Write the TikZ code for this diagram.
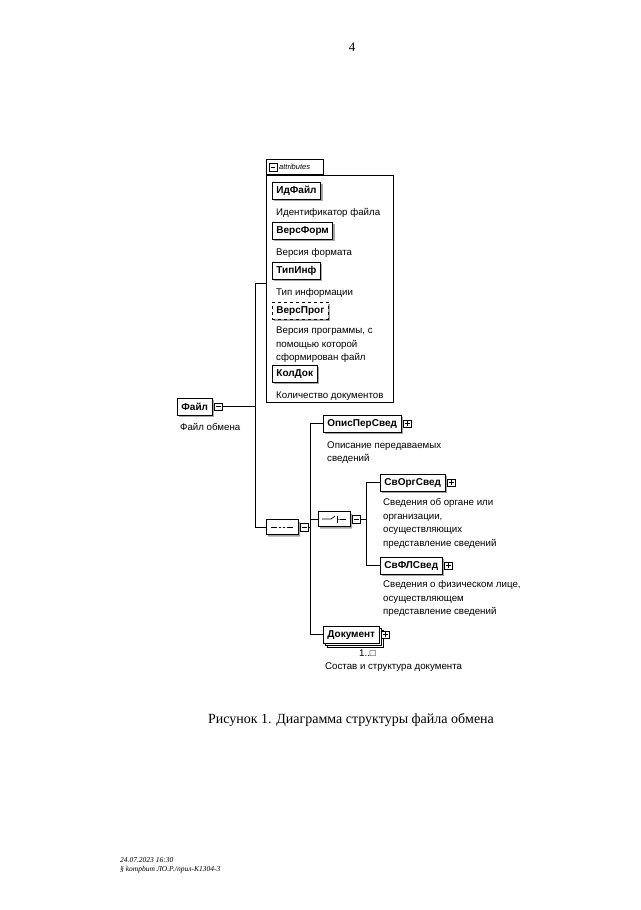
\documentclass[tikz,border=0pt]{standalone}
\usepackage{fontspec}
\setmainfont{Liberation Sans}
\newfontfamily\capfont{Liberation Serif}
\usetikzlibrary{positioning, shapes.misc, shadows}

\begin{document}
\begin{tikzpicture}[x=1pt, y=-1pt,
        elem/.style={draw, line width=0.8pt, fill=white, anchor=north west,
            font=\bfseries\fontsize{10}{12}\selectfont, inner xsep=4pt, inner ysep=0pt,
            minimum height=16.5pt, copy shadow={shadow xshift=2pt, shadow yshift=-2pt, fill=gray!70, draw=none}},
        optel/.style={elem, dashed},
        desc/.style={font=\fontsize{9.7}{13.5}\selectfont, align=left, inner sep=0pt},
        pm/.style={draw, fill=white, minimum size=7.5pt, inner sep=0pt, line width=0.5pt},
        minus/.style={pm, path picture={
            \draw ([xshift=1.3pt]path picture bounding box.west) -- ([xshift=-1.3pt]path picture bounding box.east);}},
        plus/.style={pm, path picture={
            \draw ([xshift=1.3pt]path picture bounding box.west) -- ([xshift=-1.3pt]path picture bounding box.east)
                  ([yshift=-1.3pt]path picture bounding box.north) -- ([yshift=1.3pt]path picture bounding box.south);}},
        comp/.style={draw, fill=white, line width=0.7pt, chamfered rectangle, chamfered rectangle xsep=4pt,
            minimum width=32pt, minimum height=15pt, inner sep=0pt,
            copy shadow={shadow xshift=2pt, shadow yshift=-2pt, fill=gray!70, draw=none}},
        rel/.style={line width=0.7pt}
    ]
    \useasboundingbox[fill=white] (0,0) rectangle (640,910);

    \node (pageNo) at (352,47) {\capfont\fontsize{13}{15}\selectfont 4};

    % attributes
    \node[draw, line width=0.6pt, anchor=north west, minimum width=127pt, minimum height=227pt, inner sep=0pt] (attrs) at (266,175) {};
    \node[draw, line width=0.6pt, anchor=south west, minimum width=57pt, minimum height=15pt, inner sep=0pt] (attrTab) at (attrs.north west) {};
    \node[minus, right=3pt of attrTab.west] (attrMinus) {};
    \node[right=2pt of attrMinus, inner sep=0pt, font=\itshape\fontsize{7.5}{9}\selectfont] (attrText) {attributes};

    \node[elem] (idFile) at (272,182) {ИдФайл};
    \node[desc, below right=9pt and 4pt of idFile.south west] (idFileD) {Идентификатор файла};
    \node[elem] (versForm) at (272,222) {ВерсФорм};
    \node[desc, below right=9pt and 4pt of versForm.south west] (versFormD) {Версия формата};
    \node[elem] (tipInf) at (272,262) {ТипИнф};
    \node[desc, below right=9pt and 4pt of tipInf.south west] (tipInfD) {Тип информации};
    \node[optel] (versProg) at (272,302) {ВерсПрог};
    \node[desc, below right=7.5pt and 4pt of versProg.south west] (versProgD) {Версия программы, с\\помощью которой\\сформирован файл};
    \node[elem] (kolDok) at (272,365) {КолДок};
    \node[desc, below right=9pt and 4pt of kolDok.south west] (kolDokD) {Количество документов};

    % root
    \node[elem] (file) at (177,398) {Файл};
    \node[minus, right=2pt of file] (fileMinus) {};
    \node[desc, below right=8pt and 3pt of file.south west] (fileD) {Файл обмена};

    % sequence
    \node[comp, path picture={
        \draw ([xshift=5pt]path picture bounding box.west) -- ([xshift=-5pt]path picture bounding box.east);
        \foreach \d in {-4,0,4} \fill ([xshift=\d pt]path picture bounding box.center) circle (1.4pt);}] (seq) at (282,527) {};
    \node[minus, right=2pt of seq] (seqMinus) {};

    \node[elem] (opis) at (323,415) {ОписПерСвед};
    \node[plus, right=2pt of opis] (opisPlus) {};
    \node[desc, below right=9pt and 4pt of opis.south west] (opisD) {Описание передаваемых\\сведений};

    % choice
    \node[comp, path picture={
        \draw ([xshift=4pt]path picture bounding box.west) -- ([xshift=-3pt]path picture bounding box.center)
              -- ++(4pt,3pt);
        \draw ([xshift=3pt,yshift=-3.5pt]path picture bounding box.center) -- ++(0,7pt);
        \draw ([xshift=3pt]path picture bounding box.center) -- ([xshift=-4pt]path picture bounding box.east);
        \foreach \d in {-2.5,0,2.5} \fill ([xshift=5pt,yshift=\d pt]path picture bounding box.center) circle (0.9pt);}] (choice) at (334,519) {};
    \node[minus, right=2pt of choice] (choiceMinus) {};

    \node[elem] (svOrg) at (380,474) {СвОргСвед};
    \node[plus, right=2pt of svOrg] (svOrgPlus) {};
    \node[desc, below right=7pt and 3pt of svOrg.south west] (svOrgD) {Сведения об органе или\\организации,\\осуществляющих\\представление сведений};

    \node[elem] (svFL) at (380,557) {СвФЛСвед};
    \node[plus, right=2pt of svFL] (svFLPlus) {};
    \node[desc, below right=6pt and 3pt of svFL.south west] (svFLD) {Сведения о физическом лице,\\осуществляющем\\представление сведений};

    \node[elem, double copy shadow={shadow xshift=2pt, shadow yshift=-2pt, fill=white, draw}] (dok) at (323,626) {Документ};
    \node[plus, right=2pt of dok] (dokPlus) {};
    \node[desc, below left=6pt and 12pt of dok.south east, anchor=north] (dokOcc) {1..□};
    \node[desc, below right=19pt and 2pt of dok.south west] (dokD) {Состав и структура документа};

    % connectors
    \coordinate (jTop) at (255,283);
    \coordinate (jBot) at (255,527);
    \coordinate (kCol) at (310,0);
    \coordinate (mCol) at (366,0);
    \draw[rel] (fileMinus.east) -- (fileMinus.east -| jTop);
    \draw[rel] (attrs.west |- jTop) -- (jTop) -- (jBot) -- (seq.west);
    \draw[rel] (seqMinus.east) -- (seqMinus.east -| kCol);
    \draw[rel] (opis.west) -- (opis.west -| kCol) -- (kCol |- dok.west) -- (dok.west);
    \draw[rel] (choice.west -| kCol) -- (choice.west);
    \draw[rel] (choiceMinus.east) -- (choiceMinus.east -| mCol);
    \draw[rel] (svOrg.west) -- (svOrg.west -| mCol) -- (mCol |- svFL.west) -- (svFL.west);

    \node (caption) at (351,720) {\capfont\fontsize{14}{17}\selectfont Рисунок 1. Диаграмма структуры файла обмена};
    \node[anchor=west, inner sep=0pt, font=\capfont\itshape\fontsize{7.5}{9}\selectfont] (stamp) at (120,860) {24.07.2023 16:30};
    \node[anchor=west, inner sep=0pt, font=\capfont\itshape\fontsize{7.5}{9}\selectfont] (stampPath) at (120,870) {§ kompbum ЛО.Р./прил-К1304-3};
\end{tikzpicture}
\end{document}
